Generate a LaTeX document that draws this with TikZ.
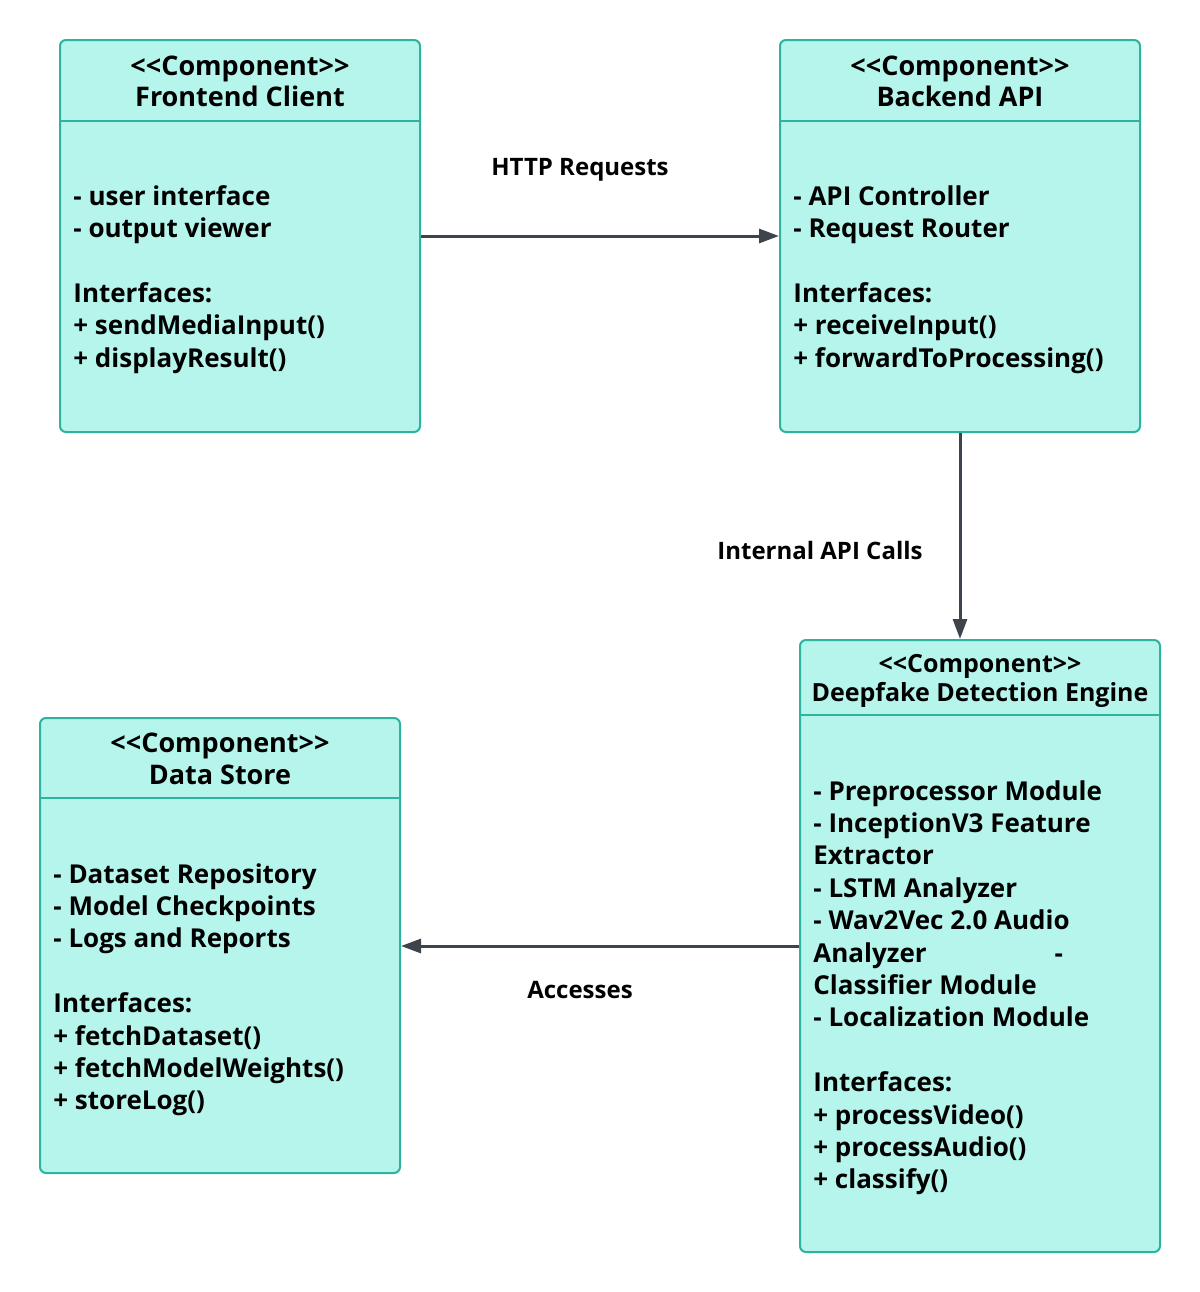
\documentclass[tikz,border=0pt]{standalone}
\usepackage{fontspec}
\setmainfont{Open Sans}
\usetikzlibrary{arrows.meta}

\definecolor{compfill}{HTML}{B5F5EC}
\definecolor{compline}{HTML}{2DB39E}
\definecolor{wire}{HTML}{3E444C}
\newcommand\stereo[1]{<\kern0pt<#1>\kern0pt>}

\tikzset{
  comp/.style={draw=compline, fill=compfill, line width=1pt, rounded corners=3pt, inner sep=0pt},
  sep/.style={draw=compline, line width=1pt},
  head/.style={font=\fontsize{13.5}{16}\selectfont\bfseries, inner sep=0pt, anchor=base},
  txt/.style={font=\fontsize{13}{16}\selectfont\bfseries, inner sep=0pt, anchor=base west},
  lbl/.style={font=\fontsize{12}{14}\selectfont\bfseries, inner sep=0pt},
  link/.style={draw=wire, line width=1.5pt, -{Triangle[length=10pt,width=7pt]}}
}

\begin{document}
\begin{tikzpicture}[x=0.5pt,y=-0.5pt]
  \useasboundingbox (0,0) rectangle (1200,1292);

  % component boxes
  \node[comp, minimum width=180pt, minimum height=196pt] (front) at (240,236) {};
  \node[comp, minimum width=180pt, minimum height=196pt] (back) at (960,236) {};
  \node[comp, minimum width=180pt, minimum height=306pt] (deep) at (980,946) {};
  \node[comp, minimum width=180pt, minimum height=227.5pt] (store) at (220,945.5) {};

  % header dividers
  \draw[sep] (front.west |- 0,121) -- (front.east |- 0,121);
  \draw[sep] (back.west |- 0,121) -- (back.east |- 0,121);
  \draw[sep] (deep.west |- 0,715) -- (deep.east |- 0,715);
  \draw[sep] (store.west |- 0,798) -- (store.east |- 0,798);

  % headers
  \node[head] (front-st) at (240,75.5) {\stereo{Component}};
  \node[head] (front-name) at (240,106.5) {Frontend Client};
  \node[head] (back-st) at (960,75.5) {\stereo{Component}};
  \node[head] (back-name) at (960,106.5) {Backend API};
  \node[head, font=\fontsize{12.5}{14}\selectfont\bfseries] (deep-st) at (980,672.5) {\stereo{Component}};
  \node[head, font=\fontsize{12.5}{14}\selectfont\bfseries] (deep-name) at (980,701.5) {Deepfake Detection Engine};
  \node[head] (store-st) at (220,752.5) {\stereo{Component}};
  \node[head] (store-name) at (220,784.5) {Data Store};

  % bodies
  \foreach \t [count=\i from 0] in {- user interface, - output viewer, {}, Interfaces:,
      + sendMediaInput(), + displayResult()}
    \node[txt] (front-\i) at (73,205+32.4*\i) {\t};
  \foreach \t [count=\i from 0] in {- API Controller, - Request Router, {}, Interfaces:,
      + receiveInput(), + forwardToProcessing()}
    \node[txt] (back-\i) at (793,205+32.4*\i) {\t};
  \foreach \t [count=\i from 0] in {- Dataset Repository, - Model Checkpoints, - Logs and Reports, {},
      Interfaces:, + fetchDataset(), + fetchModelWeights(), + storeLog()}
    \node[txt] (store-\i) at (53,883+32.4*\i) {\t};
  \foreach \t [count=\i from 0] in {- Preprocessor Module, - InceptionV3 Feature, Extractor,
      - LSTM Analyzer, - Wav2Vec 2.0 Audio, Analyzer\hspace{64pt}-, Classifier Module,
      - Localization Module, {}, Interfaces:, + processVideo(), + processAudio(), + classify()}
    \node[txt] (deep-\i) at (813,800+32.4*\i) {\t};

  % connectors
  \draw[link] (front.east) -- (back.west);
  \draw[link] (back.south) -- (back.south |- deep.north);
  \draw[link] (deep.west) -- (deep.west -| store.east);

  \node[lbl] (http) at (580,170) {HTTP Requests};
  \node[lbl] (calls) at (820,550) {Internal API Calls};
  \node[lbl] (access) at (580,990) {Accesses};
\end{tikzpicture}
\end{document}
